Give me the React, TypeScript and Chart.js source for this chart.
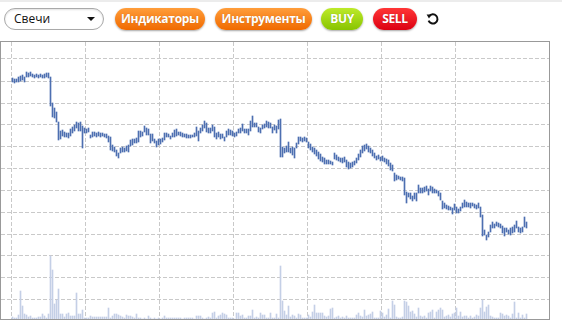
import React, { useEffect, useRef } from "react";
import { Chart, registerables } from "chart.js";

Chart.register(...registerables);

// Price ranges per candle (high / low)
const HIGH = [
  241, 240, 240, 242, 243, 244, 242, 247, 246, 247, 245, 244, 245, 244, 245, 244, 245, 246, 246, 242,
  216, 211, 207, 197, 188, 189, 187, 186, 186, 190, 192, 194, 197, 196, 197, 193, 191, 190, 191, 184,
  187, 187, 186, 187, 186, 186, 185, 185, 183, 182, 174, 172, 169, 166, 171, 172, 171, 173, 174, 179,
  180, 180, 181, 188, 188, 187, 193, 191, 190, 185, 185, 180, 178, 180, 180, 181, 186, 186, 185, 183,
  186, 189, 190, 187, 187, 186, 185, 185, 184, 184, 184, 186, 192, 188, 191, 194, 198, 196, 191, 191,
  194, 192, 186, 187, 185, 185, 182, 188, 190, 189, 188, 186, 187, 190, 191, 195, 190, 190, 190, 198,
  203, 196, 196, 192, 191, 194, 195, 198, 197, 196, 192, 194, 193, 199, 200, 172, 171, 173, 177, 171,
  172, 171, 176, 182, 182, 181, 182, 181, 177, 175, 172, 171, 169, 167, 165, 162, 161, 159, 159, 158,
  157, 166, 164, 162, 161, 161, 162, 159, 157, 156, 157, 158, 161, 165, 169, 173, 174, 175, 173, 171,
  169, 166, 163, 164, 162, 163, 161, 160, 159, 156, 154, 146, 144, 143, 142, 142, 141, 127, 126, 126,
  123, 126, 126, 134, 131, 131, 132, 133, 130, 133, 132, 130, 129, 128, 126, 118, 116, 114, 113, 112,
  111, 115, 112, 110, 112, 116, 119, 117, 116, 116, 116, 115, 114, 116, 112, 104, 89, 84, 87, 94,
  97, 95, 97, 96, 95, 93, 91, 91, 89, 91, 92, 94, 98, 92, 91, 92, 102, 97,
];
const LOW = [
  237, 236, 237, 237, 238, 239, 237, 242, 242, 243, 242, 241, 242, 241, 242, 241, 241, 242, 241, 213,
  202, 201, 197, 179, 180, 183, 182, 182, 181, 183, 186, 188, 191, 188, 188, 171, 186, 186, 187, 181,
  182, 183, 182, 183, 182, 183, 182, 181, 177, 169, 168, 167, 163, 161, 166, 167, 167, 168, 167, 173,
  174, 176, 176, 177, 182, 183, 187, 184, 184, 176, 178, 176, 172, 174, 175, 177, 179, 182, 182, 180,
  182, 182, 183, 184, 183, 182, 182, 181, 181, 181, 182, 182, 183, 178, 186, 188, 191, 187, 186, 186,
  188, 182, 180, 182, 180, 181, 178, 182, 184, 184, 183, 182, 183, 186, 186, 188, 186, 186, 184, 188,
  192, 192, 192, 187, 186, 190, 191, 192, 191, 191, 186, 189, 186, 190, 162, 162, 166, 167, 167, 166,
  164, 161, 171, 175, 178, 177, 178, 177, 171, 169, 167, 165, 163, 160, 158, 157, 155, 155, 155, 155,
  154, 160, 159, 158, 157, 156, 157, 152, 150, 151, 152, 154, 156, 159, 162, 166, 168, 170, 167, 166,
  163, 161, 159, 160, 158, 158, 157, 155, 153, 149, 148, 138, 139, 140, 139, 138, 124, 116, 122, 120,
  118, 120, 118, 126, 126, 126, 127, 128, 124, 128, 126, 126, 126, 123, 119, 110, 111, 110, 109, 109,
  105, 109, 106, 106, 108, 111, 112, 112, 112, 111, 113, 111, 110, 111, 102, 83, 84, 79, 82, 87,
  91, 91, 93, 92, 91, 86, 83, 87, 85, 84, 86, 87, 91, 87, 86, 87, 92, 91,
];
// Volume per candle
const VOLUME = [
  2, 1, 1, 4, 28, 13, 5, 4, 2, 3, 1, 1, 1, 2, 2, 5, 3, 1, 5, 63,
  49, 15, 19, 30, 5, 5, 2, 5, 6, 3, 3, 3, 26, 5, 5, 9, 1, 1, 1, 3,
  2, 2, 2, 2, 2, 2, 2, 2, 11, 1, 3, 5, 5, 4, 3, 2, 1, 4, 3, 3,
  2, 1, 5, 1, 1, 0, 1, 0, 3, 1, 0, 1, 0, 1, 0, 1, 3, 1, 1, 1,
  1, 1, 1, 1, 1, 0, 1, 1, 1, 1, 1, 0, 3, 3, 3, 1, 0, 1, 2, 1,
  6, 7, 1, 3, 4, 6, 5, 4, 1, 1, 1, 0, 6, 6, 3, 4, 1, 1, 3, 3,
  9, 1, 2, 1, 6, 4, 4, 1, 1, 6, 1, 1, 5, 1, 53, 18, 8, 4, 13, 2,
  4, 3, 1, 5, 4, 1, 1, 1, 4, 2, 7, 14, 6, 6, 6, 6, 3, 2, 3, 10,
  11, 1, 2, 3, 1, 2, 1, 3, 1, 1, 1, 1, 4, 6, 3, 2, 9, 3, 4, 5,
  7, 1, 1, 1, 8, 6, 2, 4, 10, 1, 18, 14, 2, 1, 1, 2, 18, 17, 13, 7,
  8, 5, 2, 11, 3, 2, 3, 1, 6, 7, 9, 1, 7, 9, 11, 9, 2, 3, 4, 2,
  5, 6, 11, 3, 7, 2, 3, 3, 1, 3, 1, 2, 4, 3, 11, 19, 7, 12, 14, 3,
  2, 1, 1, 1, 6, 5, 3, 4, 3, 1, 5, 17, 1, 6, 1, 4, 1, 5,
];
// Grid line positions (no labels are shown in the reference)
const GRID_X = [-0.5, 36.5, 73.5, 110.5, 147.5, 184.5, 221.5];
const GRID_Y = [20, 42, 64, 85, 107, 129, 151, 173, 195, 216, 238, 260];
const X_RANGE = [-5.75, 268.25];
const PRICE_RANGE = [0, 277];
const VOLUME_RANGE = [0, 277];

const btnBase: React.CSSProperties = {
  position: "absolute",
  top: 8,
  height: 22,
  borderRadius: 11,
  color: "#fff",
  fontFamily: "'Open Sans', 'DejaVu Sans', sans-serif",
  fontWeight: 700,
  fontSize: 12,
  lineHeight: "22px",
  textAlign: "center",
  boxShadow: "0 1px 2px rgba(0,0,0,0.35)",
  textShadow: "0 0 1px rgba(0,0,0,0.25)",
  letterSpacing: -0.3,
  whiteSpace: "nowrap",
};

export default function App() {
  const ref = useRef<HTMLCanvasElement | null>(null);

  useEffect(() => {
    if (!ref.current) return;
    const chart = new Chart(ref.current, {
      type: "bar",
      data: {
        datasets: [
          {
            label: "price",
            data: HIGH.map((h, i) => ({ x: i, y: [LOW[i], h] })) as any,
            backgroundColor: "#4d6fb1",
            borderWidth: 0,
            barThickness: 1,
            grouped: false,
            yAxisID: "y",
            order: 1,
          } as any,
          {
            label: "volume",
            data: VOLUME.map((v, i) => ({ x: i, y: v })) as any,
            backgroundColor: "#c4cfe6",
            borderWidth: 0,
            barThickness: 1,
            grouped: false,
            yAxisID: "vol",
            order: 2,
          } as any,
        ],
      },
      options: {
        animation: false,
        responsive: false,
        maintainAspectRatio: false,
        events: [],
        layout: { padding: 0 },
        plugins: { legend: { display: false }, tooltip: { enabled: false } },
        scales: {
          x: {
            type: "linear",
            min: X_RANGE[0],
            max: X_RANGE[1],
            offset: false,
            afterBuildTicks: (s: any) => {
              s.ticks = GRID_X.map((v) => ({ value: v }));
            },
            ticks: { display: false },
            grid: { offset: false, drawTicks: false, color: "#c9c9c9", lineWidth: 1 },
            border: { display: false, dash: [4, 2] },
          },
          y: {
            type: "linear",
            min: PRICE_RANGE[0],
            max: PRICE_RANGE[1],
            afterBuildTicks: (s: any) => {
              s.ticks = GRID_Y.map((v) => ({ value: v }));
            },
            ticks: { display: false },
            grid: { drawTicks: false, color: "#c9c9c9", lineWidth: 1 },
            border: { display: false, dash: [4, 2] },
          },
          vol: {
            type: "linear",
            display: false,
            min: VOLUME_RANGE[0],
            max: VOLUME_RANGE[1],
          },
        } as any,
      },
    });
    return () => chart.destroy();
  }, []);

  return (
    <div
      style={{
        position: "absolute",
        left: 0,
        top: 0,
        width: 562,
        height: 330,
        background: "#fff",
        overflow: "hidden",
      }}
    >
      <div style={{ position: "absolute", left: 0, top: 0, width: 562, height: 2, background: "#ececec" }} />
      <div
        style={{
          position: "absolute",
          left: 4,
          top: 8,
          width: 100,
          height: 22,
          boxSizing: "border-box",
          border: "1px solid #a9a9a9",
          borderRadius: 11,
          background: "#fff",
          boxShadow: "inset 0 1px 2px rgba(0,0,0,0.12)",
          fontFamily: "'Open Sans', 'DejaVu Sans', sans-serif",
          fontSize: 12,
          lineHeight: "20px",
          color: "#111",
          paddingLeft: 9,
        }}
      >
        Свечи
        <div
          style={{
            position: "absolute",
            left: 82,
            top: 8,
            width: 0,
            height: 0,
            borderLeft: "4px solid transparent",
            borderRight: "4px solid transparent",
            borderTop: "4px solid #111",
          }}
        />
      </div>
      <div style={{ ...btnBase, left: 115, width: 90, background: "linear-gradient(#ff9d3a, #f06a00)" }}>Индикаторы</div>
      <div style={{ ...btnBase, left: 215, width: 97, background: "linear-gradient(#ff9d3a, #f06a00)" }}>Инструменты</div>
      <div style={{ ...btnBase, left: 321, width: 42, background: "linear-gradient(#bdea2a, #88c400)" }}>BUY</div>
      <div style={{ ...btnBase, left: 373, width: 44, background: "linear-gradient(#ff3636, #dc0012)" }}>SELL</div>
      <svg style={{ position: "absolute", left: 426, top: 12 }} width={14} height={14} viewBox="0 0 14 14">
        <path d="M3.2 4.2 A4.6 4.6 0 1 1 2.6 8.6" fill="none" stroke="#111" strokeWidth={2} />
        <path d="M0.6 2.6 L5.6 2.4 L3.0 6.6 Z" fill="#111" />
      </svg>
      <div
        style={{
          position: "absolute",
          left: 0,
          top: 41,
          width: 550,
          height: 279,
          boxSizing: "border-box",
          border: "1px solid #999",
        }}
      >
        <canvas ref={ref} width={548} height={277} style={{ display: "block", width: 548, height: 277 }} />
      </div>
    </div>
  );
}
